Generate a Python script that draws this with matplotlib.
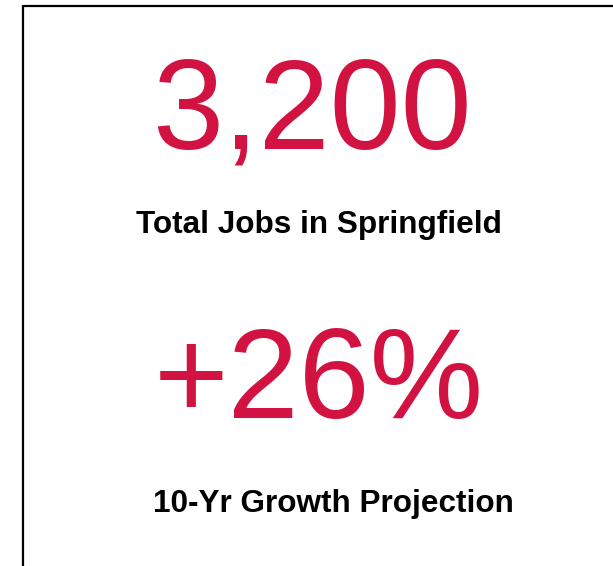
import matplotlib
matplotlib.use("Agg")
import matplotlib.pyplot as plt
from matplotlib.patches import Rectangle

W, H = 613, 566
DPI = 100

values = ["3,200", "+26%"]
labels = ["Total Jobs in Springfield", "10-Yr Growth Projection"]

RED = "#D21241"

fig = plt.figure(figsize=(W / DPI, H / DPI), dpi=DPI)
fig.patch.set_facecolor("white")

def fx(px):
    return px / W

def fy(py):
    return 1 - py / H

# Border box (right and bottom edges extend beyond the image)
fig.patches.append(Rectangle((fx(23), fy(H + 20)), fx(W + 20 - 23), fy(6) - fy(H + 20),
                             transform=fig.transFigure, fill=False,
                             edgecolor="black", linewidth=1.6))

font = "Liberation Sans"
# value positions: (center x, baseline y, size)
val_pos = [(311.5, 148, 92), (319, 418, 92)]
lab_pos = [(319, 233, 22.7), (333.5, 512, 22.7)]

for v, (x, y, s) in zip(values, val_pos):
    fig.text(fx(x), fy(y), v, color=RED, fontsize=s, family=font,
             ha="center", va="baseline")
for l, (x, y, s) in zip(labels, lab_pos):
    fig.text(fx(x), fy(y), l, color="black", fontsize=s, family=font,
             fontweight="bold", ha="center", va="baseline")

fig.savefig("out.png", dpi=DPI)
